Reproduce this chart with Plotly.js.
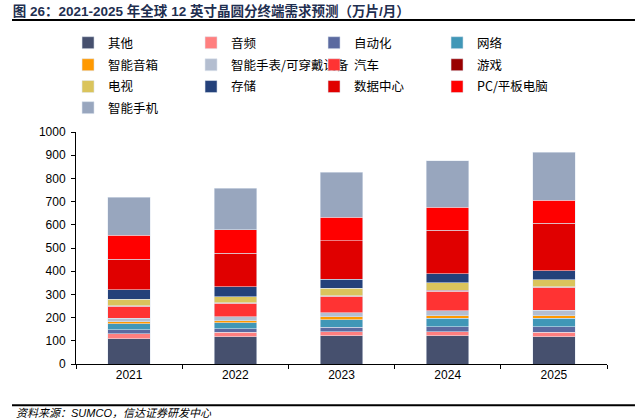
<!DOCTYPE html>
<html>
<head>
<meta charset="utf-8">
<script src="https://cdn.plot.ly/plotly-3.0.1.min.js"></script>
<style>
  html, body { margin: 0; padding: 0; background: #fff; }
  #chart { width: 640px; height: 418px; }
</style>
</head>
<body>
<div id="chart"></div>
<script>
var years = ['2021', '2022', '2023', '2024', '2025'];

// 万片/月, bottom of the stack first
var other     = [109, 117, 121, 122, 118];
var audio     = [22, 20, 19, 18, 19];
var autom     = [16, 15, 18, 20, 24];
var network   = [27, 25, 33, 37, 36];
var speaker   = [9, 10, 13, 11, 11];
var wearable  = [14, 16, 16, 22, 24];
var auto      = [52, 59, 72, 84, 98];
var gaming    = [3, 3, 3, 4, 4];
var tv        = [27, 24, 32, 32, 29];
var storage   = [40, 43, 38, 38, 38];
var dataCtr   = [133, 146, 167, 189, 206];
var pcTablet  = [103, 100, 101, 99, 98];
var phone     = [164, 180, 194, 201, 207];

var names = ['其他', '音频', '自动化', '网络', '智能音箱', '智能手表/可穿戴设备',
             '汽车', '游戏', '电视', '存储', '数据中心', 'PC/平板电脑', '智能手机'];
var series = [other, audio, autom, network, speaker, wearable,
              auto, gaming, tv, storage, dataCtr, pcTablet, phone];
var colors = ['#46506e', '#ff7f7f', '#5b6aa0', '#4097b7', '#ff9900', '#b4bed0',
              '#ff3333', '#990000', '#dac45c', '#24417a', '#e00000', '#ff0000', '#98a6be'];

// legend is 4 per row; one plotly legend per row so the row spacing can match
var legendIds = ['legend', 'legend2', 'legend3', 'legend4'];
var legendRowY = [1.448, 1.353, 1.259, 1.168];

var traces = [];
for (var i = 0; i < series.length; i++) {
  traces.push({
    x: years,
    y: series[i],
    name: names[i],
    type: 'bar',
    legend: legendIds[Math.floor(i / 4)],
    marker: { color: colors[i], line: { color: 'rgba(225,232,242,0.9)', width: 0.6 } },
    hoverinfo: 'name+y'
  });
}

var layout = {
  width: 640,
  height: 418,
  margin: { l: 76, r: 33, t: 132, b: 54 },
  paper_bgcolor: '#fff',
  plot_bgcolor: '#fff',
  font: { family: 'Liberation Sans, Arial, Noto Sans CJK SC, sans-serif', size: 12, color: '#000' },
  barmode: 'stack',
  bargap: 0.6,
  title: {
    text: '<b>图 26：2021-2025 年全球 12 英寸晶圆分终端需求预测（万片/月）</b>',
    x: 0.02, xanchor: 'left', xref: 'container',
    y: 0.972, yanchor: 'middle', yref: 'container',
    font: { family: 'Liberation Sans, Noto Sans CJK SC, sans-serif', size: 13.5, color: '#1f2f50' }
  },
  xaxis: {
    type: 'category',
    showline: true, linecolor: '#000', linewidth: 1,
    ticks: 'outside', tickson: 'boundaries', ticklen: 4, tickcolor: '#000',
    showgrid: false, zeroline: false,
    tickfont: { size: 12, color: '#000' }
  },
  yaxis: {
    range: [0, 1000], dtick: 100,
    showline: true, linecolor: '#000', linewidth: 1,
    ticks: 'outside', ticklen: 4, tickcolor: '#000', ticklabelstandoff: 3,
    showgrid: false, zeroline: false,
    tickfont: { size: 12, color: '#000' }
  },
  shapes: [
    { type: 'line', xref: 'paper', yref: 'paper', x0: -0.1205, x1: 1.0527, y0: 1.483, y1: 1.483,
      line: { color: '#000', width: 2 } },
    { type: 'line', xref: 'paper', yref: 'paper', x0: -0.1205, x1: 1.0527, y0: -0.178, y1: -0.178,
      line: { color: '#000', width: 2 } }
  ],
  annotations: [
    { text: '<i>资料来源：SUMCO，信达证券研发中心</i>', xref: 'paper', yref: 'paper',
      x: -0.116, xanchor: 'left', y: -0.21, yanchor: 'middle', showarrow: false,
      font: { family: 'Liberation Sans, Noto Sans CJK SC, sans-serif', size: 11, color: '#000' } }
  ]
};

for (var r = 0; r < legendIds.length; r++) {
  layout[legendIds[r]] = {
    orientation: 'h',
    traceorder: 'normal',
    x: -0.015, xanchor: 'left',
    y: legendRowY[r], yanchor: 'top',
    entrywidth: 78,
    font: { family: 'Noto Sans CJK SC, sans-serif', size: 12.5, color: '#000' },
    bgcolor: 'rgba(0,0,0,0)'
  };
}

Plotly.newPlot('chart', traces, layout, { displayModeBar: false, staticPlot: true });
</script>
</body>
</html>
